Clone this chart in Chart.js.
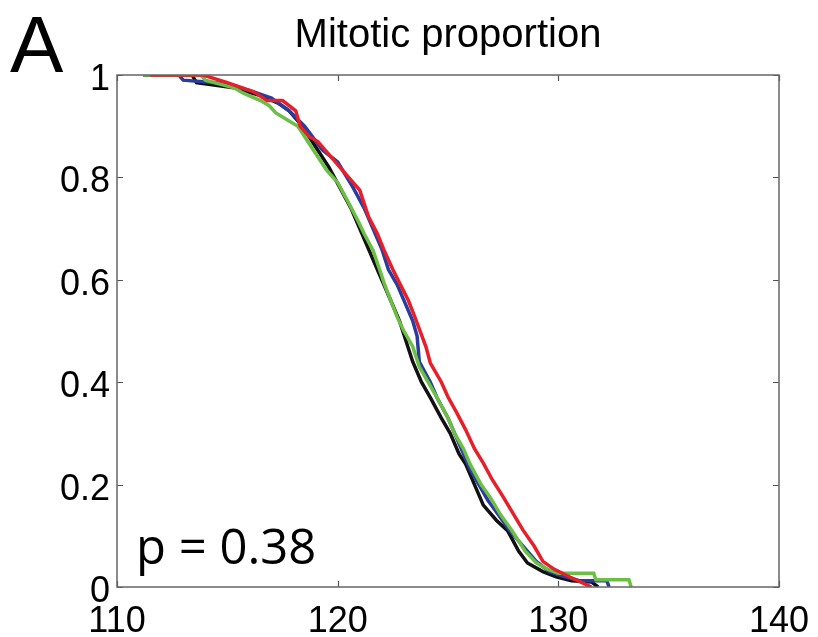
<!DOCTYPE html>
<html>
<head>
<meta charset="utf-8">
<script src="https://cdn.jsdelivr.net/npm/chart.js@4/dist/chart.umd.min.js"></script>
<style>
  html, body { margin: 0; padding: 0; background: #fff; }
  #wrap { width: 818px; height: 637px; }
</style>
</head>
<body>
<div id="wrap"><canvas id="c" width="818" height="637"></canvas></div>
<script>
// ---- data ----
const panelLabel = "A";
const chartTitle = "Mitotic proportion";
const pValueText = "p = 0.38";
const xTicks = [110, 120, 130, 140];
const yTicks = [0, 0.2, 0.4, 0.6, 0.8, 1];

const blackTimes = [111.2,113.4,113.6,115.3,116.5,117.3,117.8,118.4,119.0,119.6,120.1,120.6,121.0,121.4,121.7,122.0,122.4,122.8,123.1,123.4,123.8,124.2,124.7,125.1,125.5,125.8,126.2,126.6,127.2,127.7,128.2,128.6,129.3,129.9,130.6,131.5,131.8];
const blackProp  = [1.0,1.0,0.985,0.975,0.96,0.945,0.93,0.90,0.86,0.82,0.78,0.74,0.70,0.66,0.63,0.60,0.56,0.52,0.48,0.44,0.40,0.37,0.33,0.30,0.26,0.24,0.20,0.16,0.13,0.11,0.07,0.047,0.03,0.02,0.012,0.01,0.0];

const blueTimes = [111.2,112.8,113.0,114.5,116.0,117.0,117.8,118.5,119.3,120.0,120.7,121.2,121.6,122.0,122.3,122.7,123.1,123.4,123.6,123.7,124.2,124.5,125.0,125.3,125.7,126.0,126.4,126.8,127.3,127.8,128.4,129.0,129.6,130.3,131.0,132.2,132.3];
const blueProp  = [1.0,1.0,0.99,0.985,0.97,0.955,0.93,0.90,0.854,0.83,0.78,0.74,0.70,0.66,0.62,0.59,0.55,0.52,0.49,0.44,0.40,0.37,0.33,0.30,0.26,0.23,0.20,0.17,0.14,0.11,0.08,0.05,0.03,0.02,0.012,0.012,0.0];

const greenTimes = [111.2,113.8,114.0,115.3,115.7,116.5,116.9,117.2,117.8,118.2,118.8,119.5,120.0,120.5,120.9,121.2,121.6,121.9,122.1,122.4,122.7,123.0,123.4,123.7,124.1,124.5,125.0,125.3,125.7,126.0,126.5,126.9,127.4,127.9,128.5,129.0,129.5,130.0,131.6,131.7,133.2,133.3];
const greenProp  = [1.0,1.0,0.99,0.975,0.965,0.95,0.94,0.926,0.91,0.90,0.86,0.814,0.79,0.75,0.717,0.69,0.658,0.62,0.594,0.56,0.527,0.50,0.47,0.43,0.40,0.37,0.33,0.30,0.27,0.24,0.20,0.176,0.14,0.11,0.07,0.047,0.035,0.027,0.027,0.014,0.014,0.0];

const redTimes = [111.5,113.9,115.0,116.2,116.8,117.5,118.1,118.3,118.7,119.1,119.7,120.3,121.0,121.4,121.8,122.1,122.5,122.8,123.2,123.5,124.0,124.2,124.7,125.0,125.4,125.8,126.2,126.6,127.0,127.5,128.0,128.4,128.9,129.3,129.8,130.5,131.0,131.5];
const redProp  = [1.0,1.0,0.985,0.967,0.95,0.95,0.93,0.90,0.88,0.87,0.84,0.81,0.775,0.723,0.69,0.658,0.62,0.594,0.56,0.527,0.469,0.4375,0.40,0.371,0.34,0.307,0.27,0.242,0.21,0.176,0.14,0.111,0.08,0.05,0.035,0.02,0.01,0.0];

// ---- build ----
function pts(t, p) { return t.map((x, i) => ({ x: x, y: p[i] })); }
function ds(label, t, p, color) {
  return { label, data: pts(t, p), borderColor: color, backgroundColor: color,
           borderWidth: 3.5, pointRadius: 0, stepped: false, fill: false, tension: 0,
           borderJoinStyle: 'miter' };
}

const TICK_FONT = { family: "'Liberation Sans', Arial, sans-serif", size: 36 };

const decor = {
  id: 'decor',
  afterDraw(chart) {
    const ctx = chart.ctx, a = chart.chartArea;
    const xs = chart.scales.x, ys = chart.scales.y;
    ctx.save();
    // inward ticks (MATLAB style)
    ctx.strokeStyle = '#555';
    ctx.lineWidth = 1.2;
    const L = 6;
    ctx.beginPath();
    xTicks.forEach(v => {
      const px = Math.round(xs.getPixelForValue(v)) + 0.5;
      ctx.moveTo(px, a.bottom); ctx.lineTo(px, a.bottom - L);
      ctx.moveTo(px, a.top); ctx.lineTo(px, a.top + L);
    });
    yTicks.forEach(v => {
      const py = Math.round(ys.getPixelForValue(v)) + 0.5;
      ctx.moveTo(a.left, py); ctx.lineTo(a.left + L, py);
      ctx.moveTo(a.right, py); ctx.lineTo(a.right - L, py);
    });
    ctx.stroke();
    // box
    ctx.strokeStyle = '#666';
    ctx.lineWidth = 1.5;
    ctx.strokeRect(a.left, a.top, a.right - a.left, a.bottom - a.top);
    // texts
    ctx.fillStyle = '#000';
    ctx.textBaseline = 'alphabetic';
    ctx.textAlign = 'center';
    ctx.font = "40px 'Liberation Sans', Arial, sans-serif";
    ctx.fillText(chartTitle, (a.left + a.right) / 2, 47);
    ctx.textAlign = 'left';
    ctx.font = "80px 'Liberation Sans', Arial, sans-serif";
    ctx.fillText(panelLabel, 10, 72);
    ctx.font = "49px 'Open Sans', sans-serif";
    ctx.fillText(pValueText, 136, 564);
    ctx.restore();
  }
};

new Chart(document.getElementById('c'), {
  type: 'line',
  data: {
    datasets: [
      ds('red', redTimes, redProp, '#e5202a'),
      ds('green', greenTimes, greenProp, '#6cbf45'),
      ds('blue', blueTimes, blueProp, '#2a3c9e'),
      ds('black', blackTimes, blackProp, '#111111')
    ]
  },
  options: {
    responsive: false,
    animation: false,
    events: [],
    layout: { padding: { top: 75, right: 39, bottom: 0, left: 0 } },
    plugins: { legend: { display: false }, title: { display: false }, tooltip: { enabled: false } },
    scales: {
      x: {
        type: 'linear', min: 110, max: 140,
        afterBuildTicks(s) { s.ticks = xTicks.map(v => ({ value: v })); },
        afterFit(s) { s.height = 50; s.paddingLeft = 0; s.paddingRight = 0; },
        grid: { display: false, drawTicks: false },
        border: { display: false },
        ticks: { color: '#000', font: TICK_FONT, padding: 13, maxRotation: 0, autoSkip: false }
      },
      y: {
        type: 'linear', min: 0, max: 1,
        afterBuildTicks(s) { s.ticks = yTicks.map(v => ({ value: v })); },
        afterFit(s) { s.width = 117; s.paddingTop = 0; s.paddingBottom = 0; },
        grid: { display: false, drawTicks: false },
        border: { display: false },
        ticks: { color: '#000', font: TICK_FONT, padding: 7, labelOffset: 5, autoSkip: false,
                 callback: v => String(+Number(v).toFixed(1)) }
      }
    }
  },
  plugins: [decor]
});
</script>
</body>
</html>
